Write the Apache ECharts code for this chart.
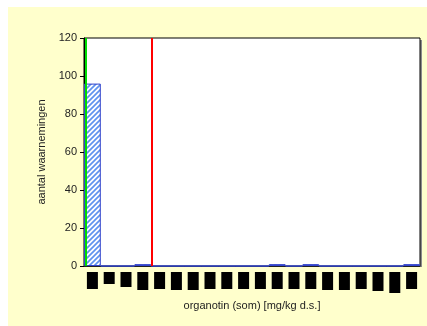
<!DOCTYPE html>
<html>
<head>
<meta charset="utf-8">
<script src="https://cdn.jsdelivr.net/npm/echarts@6/dist/echarts.min.js"></script>
<style>
  html, body { margin: 0; padding: 0; background: #ffffff; }
  #chart { width: 427px; height: 326px; }
</style>
</head>
<body>
<div id="chart"></div>
<script>
// Histogram bins (20 classes) and number of observations per bin
const binLabels = ['1', '2', '3', '4', '5', '6', '7', '8', '9', '10',
                   '11', '12', '13', '14', '15', '16', '17', '18', '19', '20'];
const counts = [96, 0, 0, 1, 0, 0, 0, 0, 0, 0, 0, 1, 0, 1, 0, 0, 0, 0, 0, 1];

// Value axis ticks
const yMin = 0;
const yMax = 120;
const yStep = 20;

// Reference lines, in bin units along the axis
const greenLineAt = 0.1;
const redLineAt = 4.05;

const xTitle = 'organotin (som) [mg/kg d.s.]';
const yTitle = 'aantal waarnemingen';

// Bin labels are printed as solid blocks; block heights (px)
const blockHeights = [17, 12, 15, 18, 17, 18, 18, 17, 17, 17,
                      17, 17, 17, 17, 18, 18, 17, 19, 21, 17];

// Diagonal hatch fill for the bars
function hatchPattern() {
  const c = document.createElement('canvas');
  c.width = 5; c.height = 5;
  const g = c.getContext('2d');
  g.fillStyle = '#ffffff';
  g.fillRect(0, 0, 5, 5);
  g.strokeStyle = '#5f93ee';
  g.lineWidth = 1.7;
  g.beginPath();
  g.moveTo(-1, 6); g.lineTo(6, -1);
  g.moveTo(-1, 1); g.lineTo(1, -1);
  g.moveTo(4, 6); g.lineTo(6, 4);
  g.stroke();
  return c;
}

const rich = {};
blockHeights.forEach((h, i) => {
  rich['k' + i] = { width: 11, height: h, backgroundColor: '#000000', lineHeight: h };
});

const font = 'Arial, "Liberation Sans", sans-serif';
const chart = echarts.init(document.getElementById('chart'), null, { renderer: 'canvas' });

chart.setOption({
  backgroundColor: '#ffffff',
  animation: false,
  graphic: [
    { type: 'rect', z: -20, shape: { x: 8, y: 7, width: 419, height: 319 },
      style: { fill: '#ffffcc' } },
    { type: 'rect', z: -10, shape: { x: 86, y: 40, width: 336, height: 227 },
      style: { fill: '#8c8c8c' } }
  ],
  grid: {
    left: 84, top: 38, right: 7, bottom: 60,
    show: true, backgroundColor: '#ffffff', borderColor: '#000000', borderWidth: 1
  },
  xAxis: [
    {
      type: 'category',
      data: binLabels,
      boundaryGap: true,
      name: xTitle,
      nameLocation: 'middle',
      nameGap: 34,
      nameTextStyle: { fontFamily: font, fontSize: 11, color: '#222222' },
      axisLine: { lineStyle: { color: '#222222', width: 1 } },
      axisTick: { show: false },
      axisLabel: {
        interval: 0,
        margin: 6,
        formatter: (v, i) => '{k' + i + '| }',
        rich: rich
      },
      splitLine: { show: false }
    },
    {
      type: 'value',
      min: 0, max: binLabels.length,
      show: false
    }
  ],
  yAxis: {
    type: 'value',
    min: yMin, max: yMax, interval: yStep,
    name: yTitle,
    nameLocation: 'middle',
    nameGap: 35,
    nameRotate: 90,
    nameTextStyle: { fontFamily: font, fontSize: 11, color: '#222222' },
    axisLine: { show: true, lineStyle: { color: '#000000', width: 1 } },
    axisTick: { show: true, length: 4, inside: false, lineStyle: { color: '#000000' } },
    axisLabel: { fontFamily: font, fontSize: 11, color: '#222222', margin: 7 },
    splitLine: { show: false }
  },
  series: [
    {
      type: 'bar',
      xAxisIndex: 0,
      data: counts,
      barCategoryGap: '0%',
      itemStyle: {
        color: { image: hatchPattern(), repeat: 'repeat' },
        borderColor: '#3344cc',
        borderWidth: 1
      },
      silent: true
    },
    {
      type: 'line',
      xAxisIndex: 1,
      data: [],
      showSymbol: false,
      silent: true,
      markLine: {
        symbol: 'none',
        silent: true,
        label: { show: false },
        data: [
          { xAxis: greenLineAt, lineStyle: { color: '#00dd00', width: 2, type: 'solid' } },
          { xAxis: redLineAt, lineStyle: { color: '#ff0000', width: 2, type: 'solid' } }
        ]
      }
    }
  ]
});
</script>
</body>
</html>
